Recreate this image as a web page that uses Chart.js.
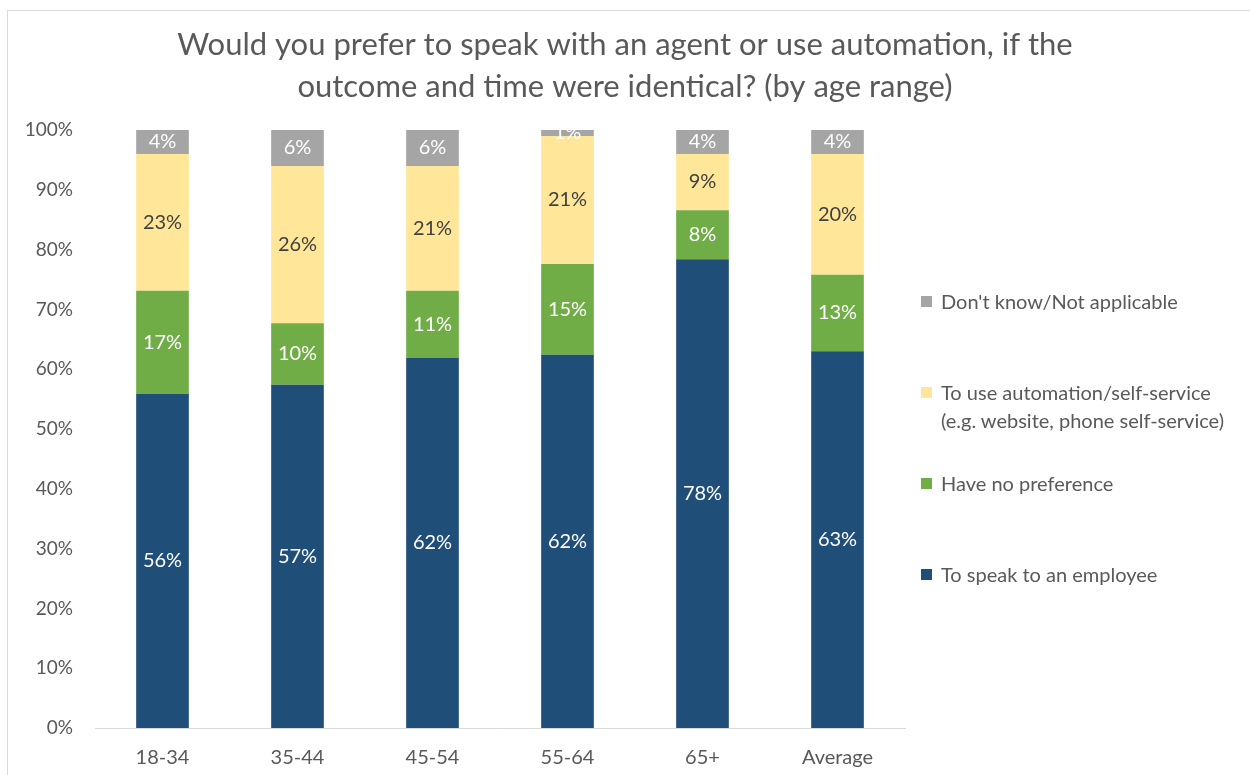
<!DOCTYPE html>
<html>
<head>
<meta charset="utf-8">
<script src="https://cdn.jsdelivr.net/npm/chart.js@4.4.0/dist/chart.umd.min.js"></script>
<style>
    html, body { margin: 0; padding: 0; background: #fff; overflow: hidden; }
    #marco {
        position: absolute; left: 7px; top: 10px; width: 1260px; height: 780px;
        border: 1px solid #d9d9d9; box-sizing: border-box;
    }
    #lienzo { position: absolute; left: 0; top: 0; width: 1250px; height: 775px; }
    #leyenda {
        position: absolute; left: 921px; top: 287px;
        font-family: Lato, 'Open Sans', sans-serif; font-size: 20px; color: #595959;
    }
    .item { display: flex; align-items: flex-start; height: 91px; line-height: 28px; }
    .cuadro { width: 11px; height: 11px; margin: 9px 9px 0 0; flex: none; }
</style>
</head>
<body>
<div id="marco"></div>
<canvas id="lienzo" width="1250" height="775"></canvas>
<div id="leyenda"></div>
<script>
// Datos
const rangosEdad = ['18-34', '35-44', '45-54', '55-64', '65+', 'Average'];
const hablarEmpleado = [55.9, 57.4, 61.9, 62.4, 78.4, 63.0];
const sinPreferencia = [17.2, 10.3, 11.2, 15.2, 8.2, 12.8];
const automatizacion = [22.9, 26.3, 20.9, 21.4, 9.4, 20.2];
const noSabe = [4.0, 6.0, 6.0, 1.0, 4.0, 4.0];

const colores = {
    azul: '#1f4e79',
    verde: '#70ad47',
    amarillo: '#ffe699',
    gris: '#a5a5a5',
    texto: '#595959',
    etiquetaOscura: '#404040'
};

const fuente = 'Lato, "Open Sans", sans-serif';

const series = [
    { label: 'To speak to an employee', data: hablarEmpleado, color: colores.azul, colorTexto: '#ffffff' },
    { label: 'Have no preference', data: sinPreferencia, color: colores.verde, colorTexto: '#ffffff' },
    { label: ['To use automation/self-service', '(e.g. website, phone self-service)'], data: automatizacion, color: colores.amarillo, colorTexto: colores.etiquetaOscura },
    { label: "Don't know/Not applicable", data: noSabe, color: colores.gris, colorTexto: '#ffffff' }
];

// Etiquetas de porcentaje dentro de cada segmento
const pluginEtiquetas = {
    id: 'etiquetasSegmento',
    afterDatasetsDraw(chart) {
        const ctx = chart.ctx;
        ctx.save();
        ctx.font = '20px ' + fuente;
        ctx.textAlign = 'center';
        ctx.textBaseline = 'middle';
        chart.data.datasets.forEach((ds, i) => {
            const meta = chart.getDatasetMeta(i);
            meta.data.forEach((barra, j) => {
                const valor = ds.data[j];
                ctx.fillStyle = ds.colorTexto;
                ctx.fillText(Math.round(valor) + '%', barra.x, (barra.y + barra.base) / 2);
            });
        });
        ctx.restore();
    }
};

const ctx = document.getElementById('lienzo').getContext('2d');

new Chart(ctx, {
    type: 'bar',
    data: {
        labels: rangosEdad,
        datasets: series.map(s => ({
            label: s.label,
            data: s.data,
            backgroundColor: s.color,
            colorTexto: s.colorTexto,
            borderWidth: 0,
            categoryPercentage: 1,
            barPercentage: 0.39
        }))
    },
    options: {
        responsive: false,
        animation: false,
        layout: { padding: 0 },
        plugins: {
            legend: { display: false },
            tooltip: { enabled: false },
            title: {
                display: true,
                text: ['Would you prefer to speak with an agent or use automation, if the',
                       'outcome and time were identical? (by age range)'],
                color: colores.texto,
                font: { family: fuente, size: 31, weight: 'normal', lineHeight: 42 / 31 },
                padding: { top: 24, bottom: 22 }
            }
        },
        scales: {
            x: {
                stacked: true,
                afterFit: function(escala) { escala.height = 47; },
                grid: { display: false, drawTicks: false },
                border: { display: true, color: '#d9d9d9', width: 1 },
                ticks: { color: colores.texto, font: { family: fuente, size: 20 }, padding: 18 }
            },
            y: {
                stacked: true,
                min: 0,
                max: 100,
                afterFit: function(escala) { escala.width = 95; },
                grid: { display: false, drawTicks: false },
                border: { display: false },
                ticks: {
                    stepSize: 10,
                    color: colores.texto,
                    font: { family: fuente, size: 19 },
                    padding: 22,
                    callback: function(v) { return v + '%'; }
                }
            },
            // eje vacío a la derecha para dejar sitio a la leyenda
            hueco: {
                type: 'linear',
                position: 'right',
                display: true,
                afterFit: function(escala) { escala.width = 345; },
                grid: { display: false, drawTicks: false },
                border: { display: false },
                ticks: { display: false }
            }
        }
    },
    plugins: [pluginEtiquetas]
});

// Leyenda en HTML, orden inverso como en el original
const leyenda = document.getElementById('leyenda');
series.slice().reverse().forEach(s => {
    const item = document.createElement('div');
    item.className = 'item';
    const cuadro = document.createElement('span');
    cuadro.className = 'cuadro';
    cuadro.style.background = s.color;
    const texto = document.createElement('span');
    texto.innerHTML = (Array.isArray(s.label) ? s.label : [s.label]).join('<br>');
    item.appendChild(cuadro);
    item.appendChild(texto);
    leyenda.appendChild(item);
});
</script>
</body>
</html>
